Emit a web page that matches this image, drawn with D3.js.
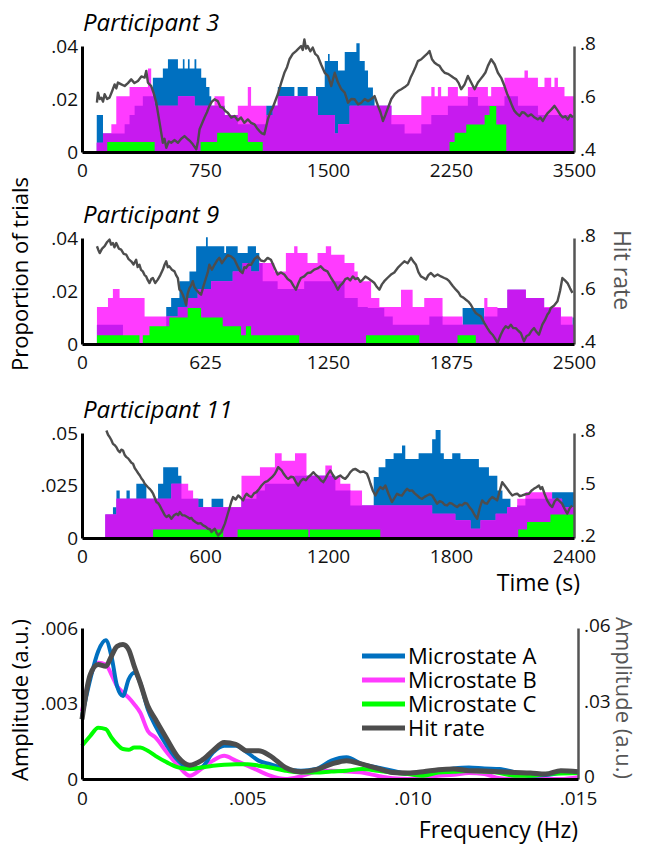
<!DOCTYPE html>
<html>
<head>
<meta charset="utf-8">
<script src="https://cdn.jsdelivr.net/npm/d3@7"></script>
<style>
  body { margin: 0; background: #fff; }
  text { font-family: 'Open Sans', sans-serif; }
</style>
</head>
<body>
<svg id="chart" width="657" height="845"></svg>
<script>

// ---- data: step series given as [time, value] change points ----
// participant 3
const p3A = [[90,.014],[128,.007],[260,.0105],[290,.014],[321,.0175],[371,.021],[432,.028],[493,.0315],[524,.035],[585,.0315],[615,.035],[625,.0315],[646,.035],[656,.0315],[686,.035],[697,.0315],[727,.028],[757,.0245],[777,.021],[788,.0175],[869,.014],[950,.0105],[1123,.0175],[1194,.0245],[1295,.021],[1315,.0245],[1376,.021],[1427,.0245],[1480,.0343],[1500,.037],[1510,.0343],[1561,.0308],[1602,.0377],[1673,.041],[1693,.0343],[1724,.0308],[1744,.0243],[1774,.0208],[1784,.0175],[1886,.0105],[1967,.007],[2069,.0105],[2130,.014],[2231,.0175],[2353,.0208],[2414,.0175],[2576,.021],[2658,.0175],[2780,.014],[3000,0]];
const p3B = [[90,.0035],[128,.007],[179,.0105],[209,.021],[290,.0245],[402,.0315],[422,.0245],[432,.021],[443,.0175],[585,.021],[686,.0175],[808,.021],[869,.014],[950,.0175],[1011,.0245],[1031,.0175],[1123,.014],[1163,.0175],[1194,.021],[1437,.014],[1541,.007],[1561,.0105],[1632,.0175],[1886,.014],[2069,.021],[2130,.0245],[2150,.021],[2170,.0245],[2190,.021],[2231,.0245],[2292,.021],[2353,.0245],[2475,.021],[2495,.0245],[2576,.028],[2698,.0308],[2719,.028],[2780,.0245],[2820,.028],[2861,.0245],[2881,.028],[2902,.0245],[2942,.021],[3000,0]];
const p3C = [[154,.0038],[443,0],[723,.0038],[824,.0073],[1011,.0038],[1102,0],[2241,.0038],[2272,.0073],[2343,.0104],[2455,.014],[2485,.0174],[2526,.0104],[2587,0]];
const p3Hit = [[91,.586],[97,.624],[108,.6],[118,.605],[128,.59],[138,.618],[153,.6],[168,.605],[184,.63],[199,.655],[209,.64],[219,.662],[240,.655],[260,.649],[280,.66],[300,.674],[320,.66],[341,.668],[362,.685],[382,.681],[392,.706],[402,.662],[422,.649],[438,.62],[453,.586],[473,.511],[493,.435],[503,.45],[514,.416],[529,.44],[544,.435],[565,.445],[585,.435],[605,.45],[625,.46],[646,.448],[661,.44],[676,.429],[697,.41],[707,.44],[717,.486],[747,.53],[762,.55],[777,.574],[792,.59],[808,.599],[828,.592],[844,.57],[859,.567],[874,.555],[889,.548],[910,.53],[930,.536],[950,.52],[970,.53],[990,.51],[1011,.523],[1031,.51],[1052,.504],[1067,.49],[1082,.479],[1097,.47],[1112,.467],[1133,.523],[1148,.55],[1163,.567],[1194,.618],[1214,.66],[1234,.699],[1250,.72],[1265,.75],[1285,.77],[1305,.781],[1320,.79],[1336,.8],[1346,.785],[1356,.825],[1366,.79],[1376,.8],[1392,.78],[1407,.794],[1422,.77],[1437,.762],[1458,.73],[1480,.699],[1500,.687],[1520,.649],[1541,.699],[1561,.662],[1581,.637],[1602,.624],[1622,.586],[1642,.6],[1662,.599],[1683,.58],[1703,.586],[1724,.6],[1744,.592],[1764,.6],[1784,.611],[1805,.574],[1820,.55],[1835,.517],[1850,.54],[1866,.567],[1886,.6],[1906,.618],[1927,.63],[1947,.637],[1968,.645],[1988,.655],[2003,.68],[2018,.699],[2033,.72],[2048,.743],[2069,.75],[2089,.762],[2104,.77],[2119,.781],[2134,.75],[2150,.737],[2165,.73],[2180,.725],[2195,.71],[2211,.699],[2231,.695],[2251,.687],[2266,.68],[2282,.674],[2297,.66],[2312,.637],[2333,.655],[2353,.687],[2373,.662],[2394,.637],[2414,.662],[2430,.675],[2445,.687],[2460,.7],[2475,.725],[2495,.75],[2516,.731],[2536,.699],[2556,.68],[2576,.649],[2592,.62],[2607,.599],[2622,.575],[2637,.555],[2652,.545],[2668,.536],[2683,.55],[2698,.548],[2719,.535],[2739,.542],[2760,.53],[2780,.523],[2795,.53],[2810,.517],[2826,.535],[2841,.548],[2861,.56],[2881,.574],[2902,.555],[2917,.54],[2932,.53],[2947,.535],[2962,.523],[2978,.54],[2993,.53]];

// participant 9
const p9A = [[76,.0073],[208,0],[428,.014],[453,.0174],[495,.0237],[546,.0274],[580,.0369],[630,.0403],[639,.0369],[723,.0343],[732,.0369],[791,.0343],[842,.0369],[884,.0343],[901,.0306],[918,.0237],[994,.0208],[1129,.0237],[1334,.0174],[1401,.014],[1452,.0136],[1536,.0104],[1579,.0073],[1765,.0104],[1832,.0073],[1934,.0136],[2044,.0104],[2111,.0136],[2162,.0205],[2255,.0174],[2348,.0136],[2433,.0073],[2492,.01],[2500,0]];
const p9B = [[76,.014],[132,.0174],[157,.0208],[191,.0174],[318,.0104],[487,.014],[537,.0174],[588,.0208],[656,.0237],[766,.0274],[816,.0306],[859,.0274],[901,.0306],[977,.0274],[1036,.0343],[1078,.0369],[1095,.0343],[1146,.0306],[1197,.0343],[1239,.0369],[1266,.0337],[1334,.0306],[1384,.0274],[1401,.0237],[1469,.0174],[1511,.014],[1621,.0205],[1680,.014],[1739,.0174],[1832,.0104],[1934,.0073],[2044,.0174],[2060,.014],[2111,.0136],[2162,.0205],[2255,.0174],[2348,.014],[2433,.0104],[2492,.0073],[2500,0]];
const p9C = [[76,.0033],[292,0],[309,.0033],[343,.0067],[444,.01],[537,.0136],[605,.01],[715,.0067],[808,.0033],[833,.0067],[859,.0033],[1104,0],[1443,.0033],[1714,0],[1908,.0033],[2001,0]];
const p9Hit = [[76,.769],[83,.755],[90,.743],[102,.76],[115,.769],[128,.785],[140,.794],[148,.775],[157,.781],[165,.765],[174,.781],[187,.76],[199,.756],[212,.74],[225,.737],[237,.72],[250,.712],[262,.7],[275,.718],[283,.69],[292,.699],[300,.68],[309,.674],[318,.66],[326,.655],[335,.64],[343,.63],[352,.645],[360,.649],[372,.63],[385,.643],[398,.66],[411,.681],[420,.7],[428,.712],[436,.69],[444,.693],[457,.68],[470,.674],[478,.66],[487,.649],[495,.605],[503,.6],[512,.586],[520,.57],[529,.548],[537,.59],[546,.611],[554,.62],[563,.637],[571,.615],[580,.605],[592,.595],[605,.586],[618,.62],[630,.649],[639,.67],[647,.699],[660,.68],[673,.699],[686,.715],[698,.725],[711,.705],[723,.718],[740,.735],[757,.731],[774,.72],[791,.693],[804,.675],[816,.668],[825,.69],[833,.687],[846,.7],[859,.699],[876,.72],[892,.731],[909,.715],[926,.712],[943,.725],[960,.718],[977,.69],[994,.662],[1011,.67],[1028,.662],[1045,.645],[1061,.637],[1074,.62],[1087,.605],[1100,.63],[1112,.649],[1129,.655],[1146,.668],[1163,.67],[1180,.681],[1197,.685],[1213,.693],[1230,.68],[1247,.674],[1266,.649],[1283,.63],[1300,.605],[1312,.62],[1325,.63],[1338,.645],[1350,.649],[1363,.64],[1376,.655],[1389,.645],[1401,.649],[1414,.635],[1427,.643],[1440,.655],[1452,.649],[1469,.64],[1486,.63],[1499,.615],[1511,.605],[1524,.625],[1536,.637],[1553,.65],[1570,.662],[1587,.67],[1604,.687],[1621,.7],[1638,.712],[1655,.705],[1672,.725],[1685,.71],[1697,.699],[1710,.67],[1722,.655],[1735,.65],[1748,.643],[1760,.66],[1773,.668],[1790,.655],[1807,.662],[1824,.655],[1841,.649],[1854,.645],[1866,.637],[1883,.62],[1900,.605],[1913,.595],[1925,.58],[1938,.575],[1951,.567],[1963,.56],[1976,.548],[1989,.53],[2001,.517],[2014,.51],[2027,.504],[2044,.48],[2060,.46],[2073,.445],[2086,.435],[2099,.42],[2111,.404],[2120,.42],[2128,.435],[2141,.455],[2153,.467],[2166,.46],[2179,.473],[2191,.46],[2204,.46],[2217,.45],[2230,.441],[2238,.425],[2246,.41],[2259,.43],[2272,.435],[2284,.45],[2297,.46],[2310,.445],[2322,.435],[2331,.455],[2339,.473],[2352,.49],[2365,.511],[2374,.52],[2382,.536],[2399,.545],[2416,.561],[2429,.6],[2441,.649],[2454,.64],[2467,.63],[2480,.61],[2492,.593]];

// participant 11
const p11A = [[114,.0112],[151,.0147],[168,.0226],[184,.0187],[217,.0226],[233,.0187],[265,.0258],[314,.0187],[371,.0258],[396,.0337],[469,.0297],[485,.0187],[567,.0187],[591,.0147],[632,.0187],[689,.0147],[778,.0187],[851,.0226],[892,.0258],[1039,.0297],[1236,.0226],[1309,.0155],[1423,.029],[1447,.0337],[1480,.0376],[1520,.0403],[1561,.044],[1577,.0376],[1642,.0403],[1708,.047],[1725,.0514],[1749,.0403],[1765,.0376],[1806,.0403],[1846,.0376],[1936,.0337],[1985,.0297],[2026,.0226],[2051,.0187],[2090,.0147],[2123,.0155],[2163,.0187],[2293,.0218],[2400,0]];
const p11B = [[114,.0112],[168,.0187],[436,.0258],[518,.0226],[542,.0187],[567,.0147],[778,.0297],[868,.0337],[941,.0403],[974,.0368],[1039,.0403],[1095,.0297],[1187,.0345],[1219,.029],[1260,.0258],[1309,.0226],[1366,.0155],[1708,.0115],[1821,.0084],[1895,.0044],[1944,.0084],[2018,.0115],[2074,.0147],[2123,.0187],[2163,.0218],[2293,.0187],[2342,.0147],[2400,0]];
const p11C = [[347,.004],[689,0],[759,.004],[1104,0],[1112,.004],[1455,0],[2128,.004],[2171,.0076],[2285,.0112],[2400,0]];
const p11Hit = [[119,.814],[127,.79],[135,.776],[143,.76],[151,.738],[160,.73],[168,.719],[176,.7],[184,.69],[192,.705],[200,.7],[208,.675],[217,.662],[225,.655],[233,.643],[241,.63],[249,.624],[257,.6],[265,.586],[274,.57],[282,.557],[290,.54],[298,.529],[306,.51],[314,.5],[322,.49],[330,.481],[338,.47],[347,.453],[355,.43],[363,.405],[371,.4],[379,.386],[388,.365],[396,.348],[404,.33],[412,.32],[424,.33],[436,.31],[449,.33],[461,.339],[469,.33],[477,.348],[489,.33],[501,.329],[514,.32],[526,.31],[534,.315],[542,.301],[555,.29],[567,.282],[579,.285],[591,.272],[603,.265],[615,.253],[624,.25],[632,.234],[640,.245],[648,.253],[656,.23],[664,.215],[672,.225],[680,.234],[689,.26],[697,.282],[709,.33],[721,.377],[729,.41],[737,.434],[750,.42],[762,.443],[774,.43],[786,.415],[795,.44],[803,.453],[815,.44],[827,.434],[839,.455],[851,.462],[864,.48],[876,.5],[884,.51],[892,.519],[905,.525],[917,.538],[929,.55],[941,.567],[949,.585],[957,.605],[966,.595],[974,.586],[982,.57],[990,.557],[998,.545],[1006,.538],[1019,.55],[1031,.548],[1043,.52],[1055,.5],[1067,.525],[1079,.538],[1092,.53],[1104,.548],[1116,.56],[1128,.576],[1141,.56],[1153,.548],[1165,.53],[1177,.519],[1187,.538],[1199,.565],[1211,.586],[1224,.56],[1236,.538],[1248,.55],[1260,.557],[1272,.545],[1284,.538],[1297,.555],[1309,.576],[1321,.59],[1333,.595],[1346,.585],[1358,.576],[1374,.58],[1390,.567],[1399,.54],[1407,.51],[1419,.47],[1431,.443],[1443,.47],[1455,.491],[1468,.48],[1480,.5],[1496,.45],[1512,.405],[1525,.43],[1537,.453],[1549,.445],[1561,.443],[1574,.465],[1586,.481],[1598,.47],[1610,.472],[1623,.455],[1635,.443],[1647,.43],[1659,.424],[1671,.435],[1683,.443],[1696,.45],[1708,.443],[1720,.42],[1732,.396],[1745,.41],[1757,.405],[1769,.39],[1781,.386],[1793,.4],[1805,.396],[1818,.385],[1830,.377],[1842,.39],[1854,.386],[1867,.4],[1879,.396],[1891,.375],[1903,.358],[1916,.33],[1928,.31],[1940,.37],[1952,.415],[1964,.4],[1976,.396],[1989,.42],[2001,.434],[2013,.425],[2025,.415],[2038,.47],[2050,.519],[2062,.5],[2074,.481],[2087,.46],[2099,.443],[2111,.45],[2123,.453],[2135,.44],[2147,.443],[2164,.45],[2180,.453],[2192,.47],[2204,.481],[2217,.49],[2229,.5],[2237,.48],[2245,.491],[2257,.45],[2269,.415],[2282,.39],[2294,.377],[2306,.41],[2318,.424],[2330,.41],[2342,.396],[2355,.365],[2367,.339],[2379,.37],[2391,.386]];

// axis ticks / labels
const p3Ticks = [0, 750, 1500, 2250, 3000];
const p3TickLabels = ["0", "750", "1500", "2250", "3500"];
const p9Ticks = [0, 625, 1250, 1875, 2500];
const p11Ticks = [0, 600, 1200, 1800, 2400];
const propTicks = [0, .02, .04];
const propTickLabels = ["0", ".02", ".04"];
const hitTicks = [.4, .6, .8];
const hitTickLabels = [".4", ".6", ".8"];
const p11PropTicks = [0, .025, .05];
const p11PropLabels = ["0", ".025", ".05"];
const p11HitTicks = [.2, .5, .8];
const p11HitLabels = [".2", ".5", ".8"];

// spectra
const freq = [0,.00025,.00049,.00072,.00089,.00106,.00124,.00141,.00158,.00176,.00199,.00222,.00257,.00291,.00326,.00361,.00396,.0043,.00465,.005,.00534,.00569,.00615,.00662,.00708,.00754,.008,.00847,.00893,.00939,.00985,.01032,.01078,.01124,.0117,.01217,.01263,.01309,.01356,.01402,.01448,.015];
const ampA = [.0025,.00396,.00508,.00551,.00488,.00369,.0033,.00396,.00422,.00382,.00277,.00211,.00132,.00073,.0004,.00046,.00105,.00132,.00132,.00105,.00073,.00059,.0004,.00033,.0004,.00073,.00086,.00059,.00046,.00033,.0002,.0002,.00033,.00042,.00046,.00042,.0004,.00026,.00013,.00016,.00024,.00029];
const ampB = [.0027,.00409,.00462,.00455,.00415,.00369,.00343,.00323,.00297,.00264,.00191,.00165,.00105,.00053,.00013,.0004,.00073,.00092,.00073,.00053,.00033,.00013,0,.00011,.00029,.00033,.0003,.00026,.00013,.00003,0,.00007,.00013,.00017,.00024,.0002,.00003,0,0,0,0,.00007];
const ampC = [.00132,.00171,.00204,.00198,.00165,.00138,.00119,.00116,.00125,.00125,.00112,.00092,.00066,.00046,.0004,.00046,.00053,.00057,.00059,.00059,.00053,.00046,.00033,.00026,.00026,.0003,.00033,.0004,.00033,.00026,.0002,.00013,.00026,.00029,.00032,.00029,.00024,.00013,.00013,.0002,.00022,.00024];
const ampHit = [.0237,.0415,.0455,.0448,.0488,.0527,.0534,.0514,.0448,.0382,.029,.0237,.0158,.0086,.0055,.0073,.0112,.0145,.0138,.0112,.0112,.0092,.0046,.0029,.0037,.0059,.0073,.0059,.0042,.0026,.0024,.0029,.0037,.004,.0033,.0032,.0029,.0026,.0024,.002,.0033,.0029];
const freqTicks = [0, .005, .010, .015];
const freqTickLabels = ["0", ".005", ".010", ".015"];
const ampTicks = [0, .003, .006];
const ampTickLabels = ["0", ".003", ".006"];
const ampHitTicks = [0, .03, .06];
const ampHitLabels = ["0", ".03", ".06"];
const legendNames = ["Microstate A", "Microstate B", "Microstate C", "Hit rate"];

const BLUE = "#0070c0", PINK = "#ff3bff", PURPLE = "#c71aef", GREEN = "#00ff00", GREY = "#4d4d4d";

const svg = d3.select("#chart");

// value of a step series at time t
function stepAt(series, t) {
    var v = 0;
    for (const d of series) {
        if (d[0] <= t) v = d[1]; else break;
    }
    return v;
}
// overlap of A and B = the lower of the two
function minSeries(a, b) {
    const ts = Array.from(new Set(a.map(d => d[0]).concat(b.map(d => d[0])))).sort((p, q) => p - q);
    return ts.map(t => [t, Math.min(stepAt(a, t), stepAt(b, t))]);
}

function styleAxis(g, color, width) {
    g.select(".domain").attr("stroke", color).attr("stroke-width", width);
    g.selectAll("text").attr("font-size", 19).attr("fill", "#111")
        .attr("font-family", "'Open Sans', sans-serif");
}

function drawPanel(p) {
    const x = d3.scaleLinear().domain([0, p.xMax]).range([82, 574]);
    const y = d3.scaleLinear().domain([0, p.yMax]).range([p.bottom, p.top]);
    const yr = d3.scaleLinear().domain(p.hitDomain).range([p.bottom, p.top]);

    const area = d3.area().curve(d3.curveStepAfter)
        .x(d => x(d[0])).y0(y(0)).y1(d => y(d[1]));

    svg.append("path").datum(p.A).attr("d", area).attr("fill", BLUE);
    svg.append("path").datum(p.B).attr("d", area).attr("fill", PINK);
    svg.append("path").datum(minSeries(p.A, p.B)).attr("d", area).attr("fill", PURPLE);
    svg.append("path").datum(p.C).attr("d", area).attr("fill", GREEN);

    const line = d3.line().x(d => x(d[0])).y(d => yr(d[1]));
    svg.append("path").datum(p.hit).attr("d", line)
        .attr("fill", "none").attr("stroke", GREY).attr("stroke-width", 2.4)
        .attr("stroke-linejoin", "round");

    // axes
    const gl = svg.append("g").attr("transform", "translate(82,0)")
        .call(d3.axisLeft(y).tickValues(p.yTicks).tickFormat((d, i) => p.yLabels[i]).tickSize(0).tickPadding(4));
    styleAxis(gl, "#000", 3);
    const gr = svg.append("g").attr("transform", "translate(574,0)")
        .call(d3.axisRight(yr).tickValues(p.hitTicks).tickFormat((d, i) => p.hitLabels[i]).tickSize(0).tickPadding(6));
    styleAxis(gr, "#555", 2.5);
    gr.selectAll("text").attr("dy", "0.2em");
    const gb = svg.append("g").attr("transform", "translate(0," + p.bottom + ")")
        .call(d3.axisBottom(x).tickValues(p.xTicks).tickFormat((d, i) => p.xLabels[i]).tickSize(0).tickPadding(12));
    styleAxis(gb, "#000", 3);

    svg.append("text")
        .attr("x", 83).attr("y", p.top - 15)
        .attr("font-size", 24).attr("font-style", "italic")
        .text(p.title);
}

drawPanel({ title: "Participant 3", A: p3A, B: p3B, C: p3C, hit: p3Hit,
    xMax: 3000, yMax: .04, hitDomain: [.4, .8], top: 46, bottom: 152,
    xTicks: p3Ticks, xLabels: p3TickLabels, yTicks: propTicks, yLabels: propTickLabels,
    hitTicks: hitTicks, hitLabels: hitTickLabels });

drawPanel({ title: "Participant 9", A: p9A, B: p9B, C: p9C, hit: p9Hit,
    xMax: 2500, yMax: .04, hitDomain: [.4, .8], top: 238, bottom: 344,
    xTicks: p9Ticks, xLabels: p9Ticks.map(String), yTicks: propTicks, yLabels: propTickLabels,
    hitTicks: hitTicks, hitLabels: hitTickLabels });

drawPanel({ title: "Participant 11", A: p11A, B: p11B, C: p11C, hit: p11Hit,
    xMax: 2400, yMax: .05, hitDomain: [.2, .8], top: 433, bottom: 538,
    xTicks: p11Ticks, xLabels: p11Ticks.map(String), yTicks: p11PropTicks, yLabels: p11PropLabels,
    hitTicks: p11HitTicks, hitLabels: p11HitLabels });

// axis titles for the participant panels
svg.append("text").attr("transform", "translate(28,274) rotate(-90)")
    .attr("text-anchor", "middle").attr("font-size", 22).text("Proportion of trials");
svg.append("text").attr("transform", "translate(614,270) rotate(90)")
    .attr("text-anchor", "middle").attr("font-size", 23).attr("fill", "#555").text("Hit rate");
svg.append("text").attr("x", 580).attr("y", 591)
    .attr("text-anchor", "end").attr("font-size", 23).text("Time (s)");

// ---- spectrum panel ----
const fx = d3.scaleLinear().domain([0, .015]).range([82, 578]);
const fy = d3.scaleLinear().domain([0, .006]).range([779, 628]);
const fyr = d3.scaleLinear().domain([0, .06]).range([779, 628]);

const spec = [
    { vals: ampB, color: PINK, w: 4, scale: fy },
    { vals: ampA, color: BLUE, w: 4, scale: fy },
    { vals: ampC, color: GREEN, w: 4, scale: fy },
    { vals: ampHit, color: GREY, w: 5, scale: fyr }
];
spec.forEach(function (s) {
    const ln = d3.line().curve(d3.curveMonotoneX)
        .x((d, i) => fx(freq[i])).y(d => s.scale(d));
    svg.append("path").datum(s.vals).attr("d", ln)
        .attr("fill", "none").attr("stroke", s.color).attr("stroke-width", s.w)
        .attr("stroke-linejoin", "round");
});

const fl = svg.append("g").attr("transform", "translate(82,0)")
    .call(d3.axisLeft(fy).tickValues(ampTicks).tickFormat((d, i) => ampTickLabels[i]).tickSize(0).tickPadding(4));
styleAxis(fl, "#000", 3);
const fr = svg.append("g").attr("transform", "translate(578,0)")
    .call(d3.axisRight(fyr).tickValues(ampHitTicks).tickFormat((d, i) => ampHitLabels[i]).tickSize(0).tickPadding(6));
styleAxis(fr, "#555", 2.5);
fr.selectAll("text").attr("dy", "0.2em");
const fb = svg.append("g").attr("transform", "translate(0,779)")
    .call(d3.axisBottom(fx).tickValues(freqTicks).tickFormat((d, i) => freqTickLabels[i]).tickSize(0).tickPadding(13));
styleAxis(fb, "#000", 3);

svg.append("text").attr("transform", "translate(28,700) rotate(-90)")
    .attr("text-anchor", "middle").attr("font-size", 22).text("Amplitude (a.u.)");
svg.append("text").attr("transform", "translate(616,698) rotate(90)")
    .attr("text-anchor", "middle").attr("font-size", 22).attr("fill", "#555").text("Amplitude (a.u.)");
svg.append("text").attr("x", 578).attr("y", 838)
    .attr("text-anchor", "end").attr("font-size", 23).text("Frequency (Hz)");

// legend
const legColors = [BLUE, PINK, GREEN, GREY];
legendNames.forEach(function (name, i) {
    const ly = 656 + i * 24;
    svg.append("line").attr("x1", 362).attr("x2", 405).attr("y1", ly).attr("y2", ly)
        .attr("stroke", legColors[i]).attr("stroke-width", 5);
    svg.append("text").attr("x", 408).attr("y", ly + 8)
        .attr("font-size", 22).text(name);
});
</script>
</body>
</html>
